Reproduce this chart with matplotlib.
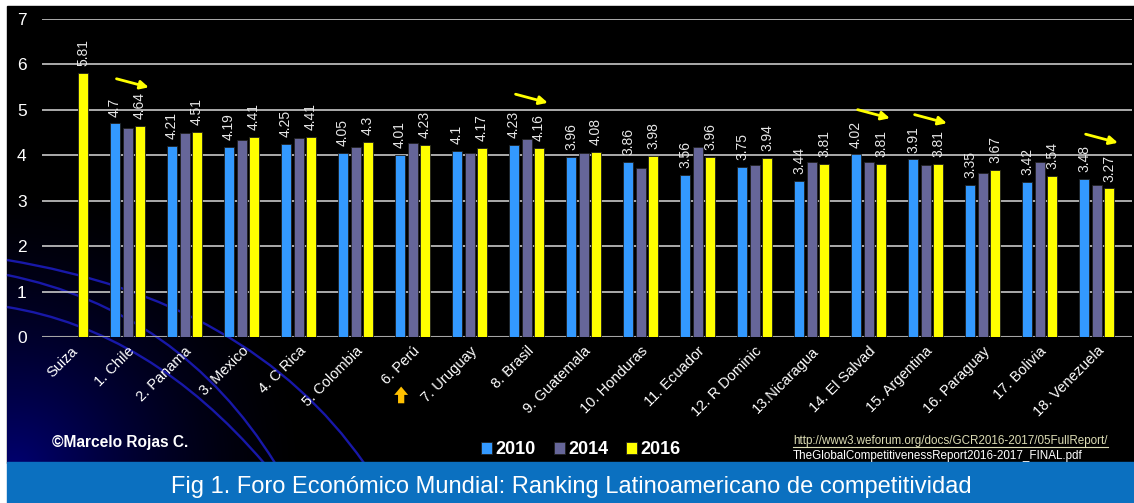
import numpy as np
import matplotlib
matplotlib.use("Agg")
import matplotlib.pyplot as plt
from matplotlib.path import Path
from matplotlib.patches import PathPatch, Rectangle

plt.rcParams['font.family'] = ['Liberation Sans', 'DejaVu Sans']

countries = ["Suiza", "1. Chile", "2. Panama", "3. Mexico", "4. C Rica", "5. Colombia",
             "6. Perú", "7. Uruguay", "8. Brasil", "9. Guatemala", "10. Honduras",
             "11. Ecuador", "12. R Dominic", "13.Nicaragua", "14. El Salvad",
             "15. Argentina", "16. Paraguay", "17. Bolivia", "18. Venezuela"]
nan = np.nan
v2010 = [nan, 4.70, 4.21, 4.19, 4.25, 4.05, 4.01, 4.10, 4.23, 3.96, 3.86, 3.56, 3.75,
         3.44, 4.02, 3.91, 3.35, 3.42, 3.48]
v2014 = [nan, 4.61, 4.48, 4.34, 4.37, 4.19, 4.26, 4.06, 4.36, 4.04, 3.71, 4.19, 3.78,
         3.85, 3.86, 3.79, 3.62, 3.86, 3.35]
v2016 = [5.81, 4.64, 4.51, 4.41, 4.41, 4.30, 4.23, 4.17, 4.16, 4.08, 3.98, 3.96, 3.94,
         3.81, 3.81, 3.81, 3.67, 3.54, 3.27]
series_names = ["2010", "2014", "2016"]
colors = ["#3399FF", "#666699", "#FFFF00"]
declining = ["1. Chile", "8. Brasil", "14. El Salvad", "15. Argentina", "18. Venezuela"]
highlight = "6. Perú"
title = "Fig 1. Foro Económico Mundial: Ranking Latinoamericano de competitividad"
url1 = "http://www3.weforum.org/docs/GCR2016-2017/05FullReport/"
url2 = "TheGlobalCompetitivenessReport2016-2017_FINAL.pdf"

W, H = 1134, 503
fig = plt.figure(figsize=(W / 100, H / 100), dpi=100)
fig.patch.set_facecolor("white")

# background axes in pixel coordinates
bg = fig.add_axes([0, 0, 1, 1])
bg.axis("off")
bg.add_patch(Rectangle((7, 6), W - 7, 457, color="black", zorder=0))
gx, gy = np.meshgrid(np.arange(0, 400), np.arange(200, 463))
d = np.sqrt((gx - 7) ** 2 + (gy - 470) ** 2)
a = np.clip(1 - d / 300, 0, 1) ** 1.6
img = np.zeros(gx.shape + (4,))
img[..., 2] = 0.45
img[..., 3] = a
bg.imshow(img, extent=(7, 407, 463, 200), zorder=1, interpolation="bilinear")
bg.set_xlim(0, W)
bg.set_ylim(H, 0)
for (p0, c, p1) in [((7, 260), (250, 300), (364, 463)),
                    ((7, 275), (180, 310), (275, 463)),
                    ((7, 307), (150, 330), (264, 463))]:
    path = Path([p0, c, p1], [Path.MOVETO, Path.CURVE3, Path.CURVE3])
    bg.add_patch(PathPatch(path, fc="none", ec="#1818a8", lw=1.7, zorder=2))
bg.add_patch(Rectangle((7, 462), W - 7, 41, color="#0B70C0", zorder=3))

# main chart
ax = fig.add_axes([42 / W, 1 - 337 / H, (1132 - 42) / W, (337 - 19) / H])
ax.patch.set_alpha(0)
x = np.arange(len(countries))
width = 0.175
offsets = [-0.22, 0.0, 0.22]
for vals, off, col, name in zip([v2010, v2014, v2016], offsets, colors, series_names):
    ax.bar(x + off, vals, width, color=col, edgecolor="#202020", linewidth=0.6,
           label=name, zorder=3)

for vals, off in [(v2010, offsets[0]), (v2016, offsets[2])]:
    for xi, v in zip(x, vals):
        if np.isnan(v):
            continue
        ax.text(xi + off, v + 0.15, f"{v:g}", rotation=90, ha="center", va="bottom",
                color="#e6e6e6", fontsize=10, zorder=4)

ax.set_xlim(-0.5, 18.62)
ax.set_ylim(0, 7)
ax.set_yticks(range(0, 8))
ax.yaxis.grid(True, color="#c8c8c8", lw=1.2, zorder=1)
ax.set_axisbelow(True)
for s in ax.spines.values():
    s.set_visible(False)
ax.axhline(0, color="#a6a6a6", lw=1.5, zorder=2)
ax.tick_params(axis="y", length=0, pad=11, labelcolor="white", labelsize=12.5)
ax.set_xticks(x)
ax.set_xticklabels(countries, rotation=45, ha="right", rotation_mode="anchor",
                   color="white", fontsize=10.5)
ax.tick_params(axis="x", length=0, pad=5)

# decline arrows
for name in declining:
    i = countries.index(name)
    top = np.nanmax([v2010[i], v2014[i], v2016[i]])
    ax.annotate("", xy=(i + 0.42, top + 0.78), xytext=(i - 0.24, top + 1.0),
                arrowprops=dict(arrowstyle="-|>,head_length=0.5,head_width=0.25",
                                color="#FFFF00", lw=2), zorder=5)
# rise arrow
i = countries.index(highlight)
ax.annotate("", xy=(i - 0.2, -1.03), xytext=(i - 0.2, -1.52),
            arrowprops=dict(arrowstyle="simple,head_width=1.0,head_length=0.6,tail_width=0.45",
                            color="#FFC000", lw=0), annotation_clip=False)

leg = ax.legend(loc="center", bbox_to_anchor=(581 / W, 1 - 450 / H),
                bbox_transform=fig.transFigure, ncol=3, frameon=False,
                handlelength=0.6, handleheight=0.6, handletextpad=0.2,
                columnspacing=1.0, prop=dict(weight="bold", size=13))
for t in leg.get_texts():
    t.set_color("white")

fig.text(52 / W, 1 - 443 / H, "©Marcelo Rojas C.", color="white", fontsize=11.2,
         weight="bold", va="center", ha="left")
t1 = fig.text(793 / W, 1 - 441 / H, url1, color="#dcdcb4", fontsize=8.4,
              va="center", ha="left")
fig.text(793 / W, 1 - 456 / H, url2, color="white", fontsize=8.4, va="center", ha="left")
fig.text(571 / W, 1 - 487 / H, title, color="white", fontsize=17, va="center", ha="center")

fig.canvas.draw()
bb = t1.get_window_extent()
bg.plot([bb.x0, bb.x1], [H - bb.y0 - 0.5, H - bb.y0 - 0.5], color="#dcdcb4", lw=0.8,
        zorder=5)

fig.savefig("out.png", dpi=100, facecolor=fig.get_facecolor())
